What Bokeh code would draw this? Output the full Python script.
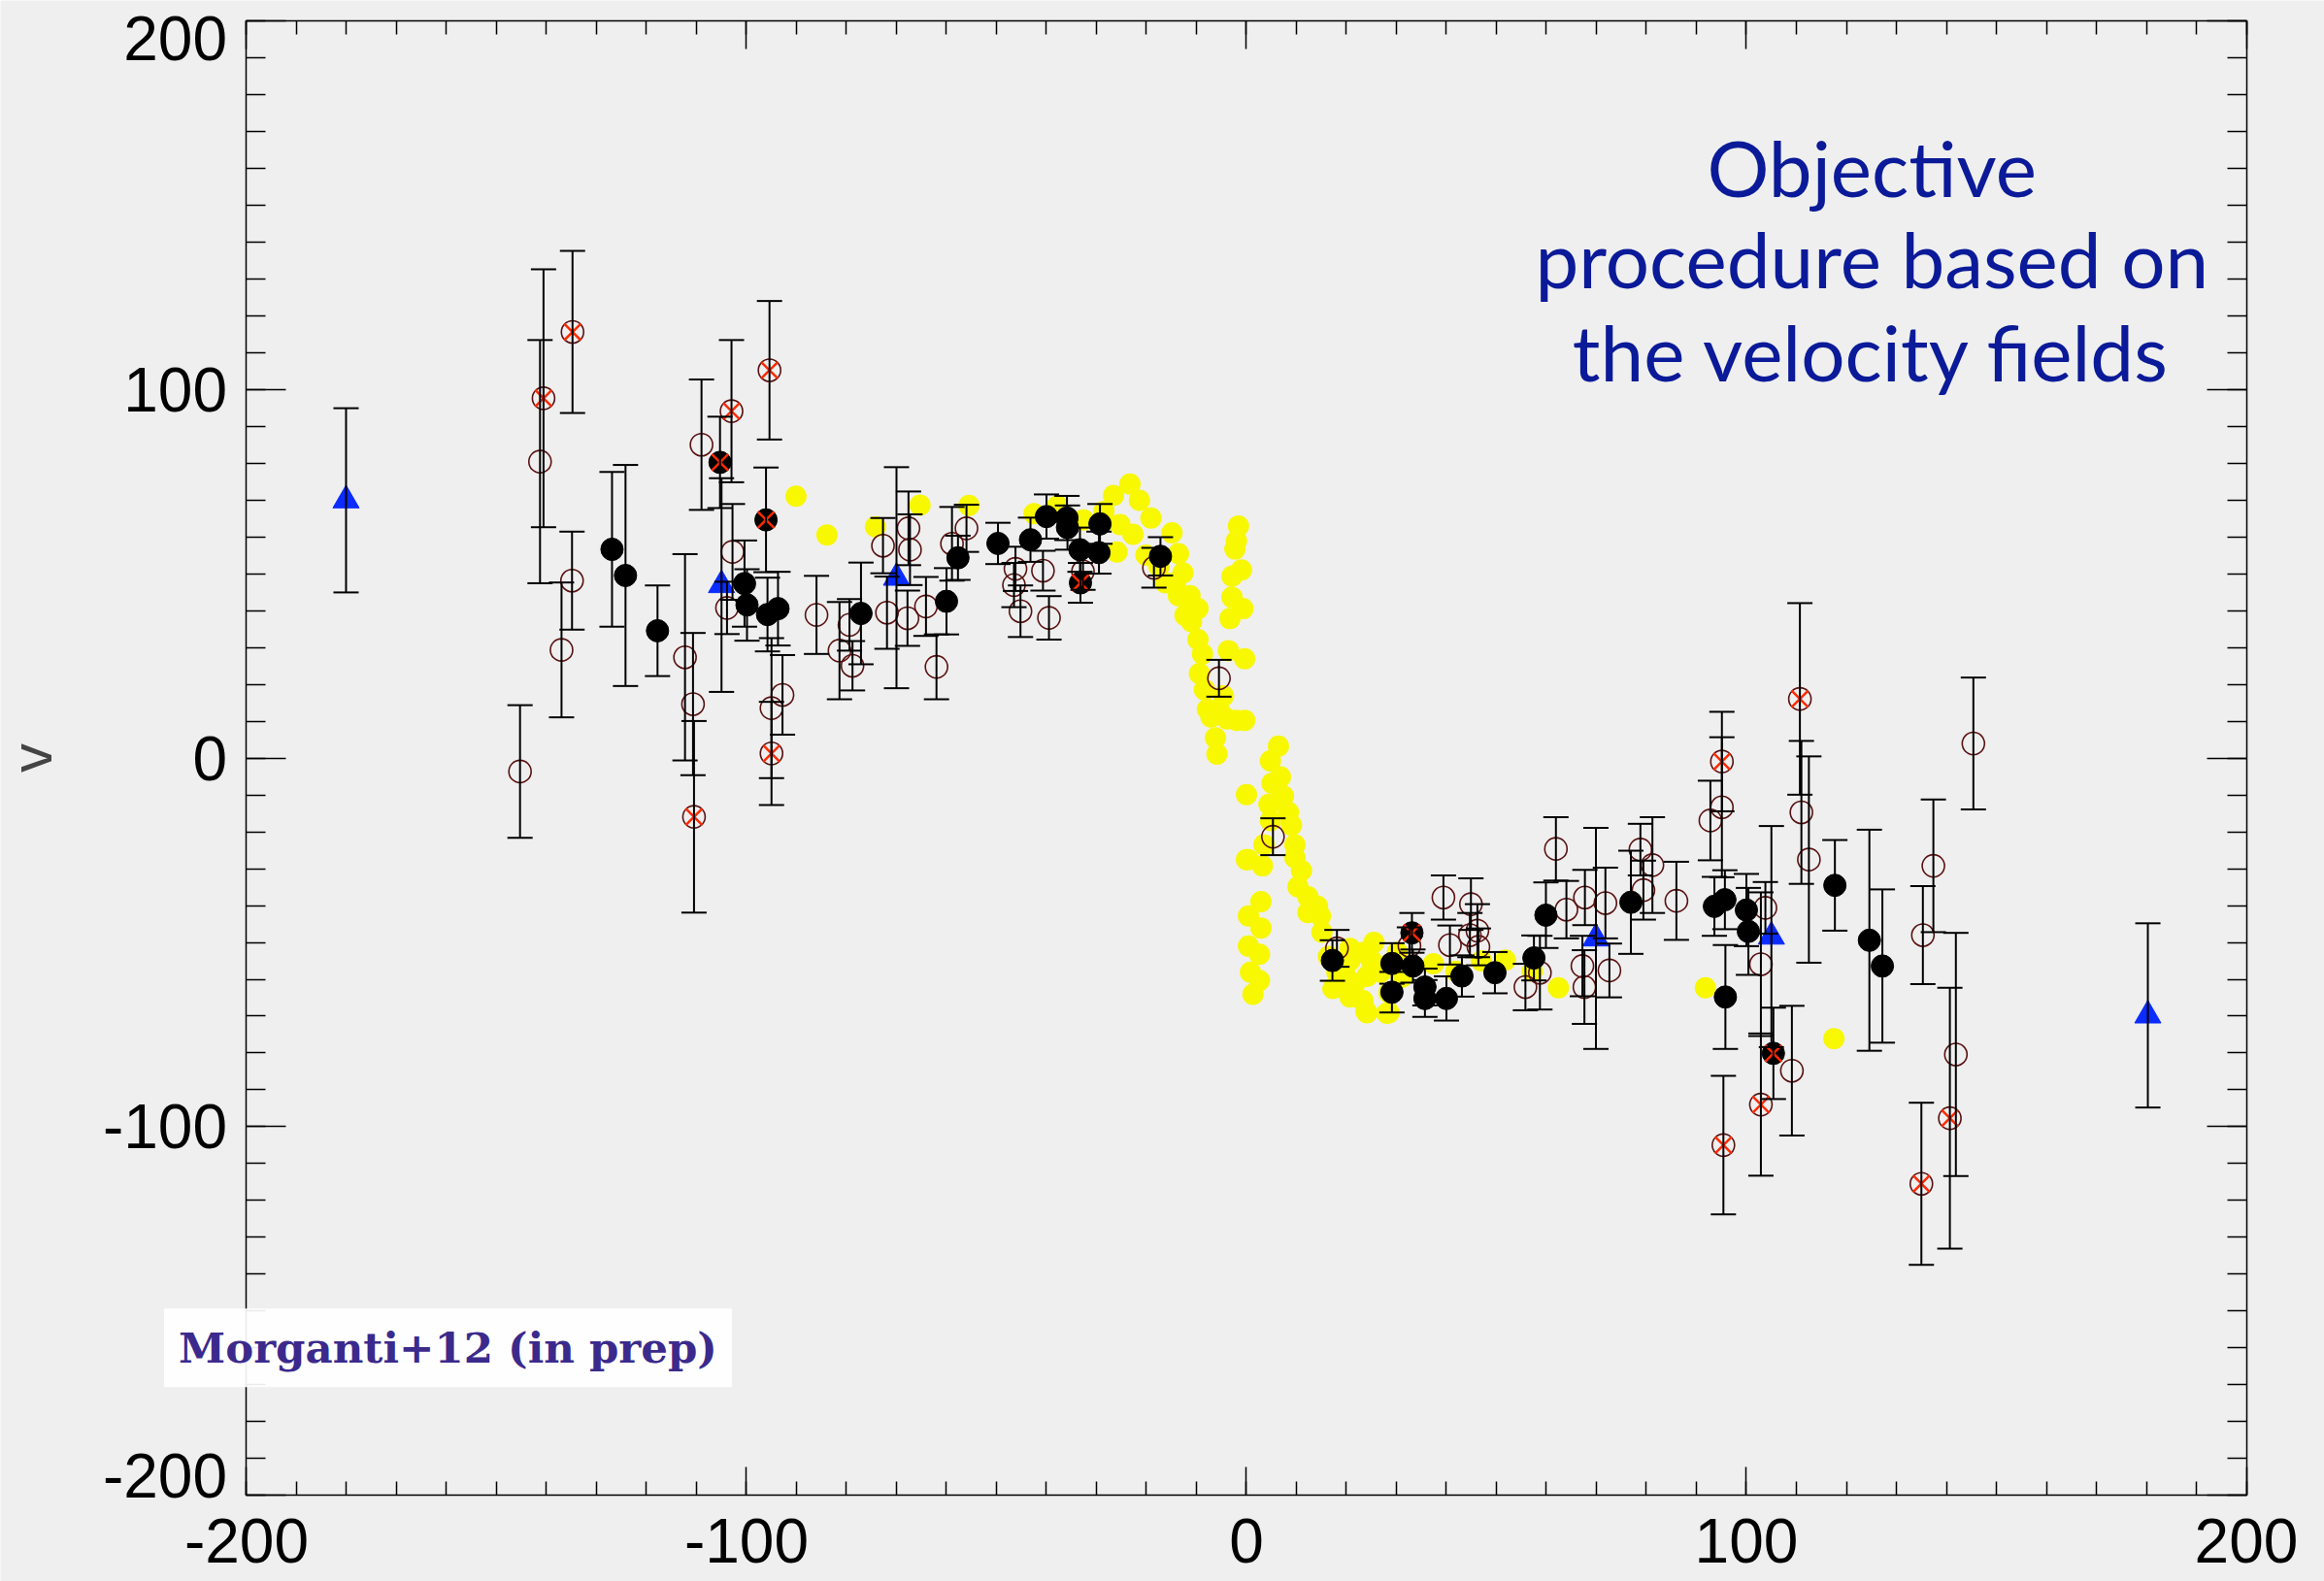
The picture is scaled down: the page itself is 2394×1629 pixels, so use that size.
from bokeh.plotting import figure
from bokeh.models import (ColumnDataSource, Whisker, TeeHead, Range1d, LinearAxis,
                          FixedTicker, Label)
from bokeh.embed import file_html
from bokeh.resources import INLINE

# ---- data: position along the cut (x) and velocity (v) ----
# yellow: velocity-field samples (no error bars)
yellow_x = [-90.1, -83.9, -74.2, -65.3, -55.5, -42.5, -37.8, -32.6,
            -28.5, -26.6, -23.3, -21.4, -19.1, -14.9, -25.3, -22.7, -25.9, -20.1,
            -17.5, -13.6, -12.7, -16.2, -14.2, -13.6, -11.3, -9.7, -12.3, -11.0,
            -9.7, -8.8, -9.4, -8.4, -4.6, -7.8, -7.1, -5.2, -3.9, -2.0, -0.35,
            -6.2, -5.9,
            -1.6, -2.0, -2.3, -1.0, -2.9, -2.9, -0.7, -3.3, -3.6, -0.35,
            6.4, 4.8, 6.8, 5.1, 7.4, 4.5, 8.4, 9.0, 4.8, 3.5, 9.7, 9.7, 3.2,
            11.0, 10.3, 12.3, 14.2, 12.3, 14.8,
            0.0, 0.0, 0.3, 2.9, 0.4, 2.9, 0.4, 2.6, 0.8, 2.6, 1.3,
            15.1, 16.4, 18.1, 17.3, 20.7, 23.3, 25.0, 24.1, 21.6, 23.3, 24.1,
            26.8, 28.5, 28.5, 28.5, 30.2, 31.1, 20.7, 20.0, 20.7, 23.9, 28.1,
            31.0, 25.5, 37.4, 41.9, 47.0, 51.8, 57.2, 62.4, 91.8, 117.5]
yellow_y = [71.1, 60.6, 62.8, 68.7, 68.6, 66.4, 68.5, 64.7,
            67.0, 71.3, 74.4, 70.0, 65.2, 61.2, 63.4, 60.8, 56.0, 55.1,
            52.0, 55.5, 50.3, 47.6, 47.6, 44.1, 44.1, 40.6, 38.8, 37.1,
            32.2, 28.3, 23.0, 18.6, 16.9, 13.3, 11.2, 12.4, 10.7, 10.3, 10.3,
            5.5, 1.1,
            63.0, 59.0, 56.8, 51.1, 49.4, 43.7, 40.6, 37.9, 29.2, 27.0,
            3.3, -0.7, -5.1, -6.8, -10.3, -12.5, -14.7, -18.2, -16.9, -23.5, -23.5,
            -27.0, -29.2, -30.5, -34.9, -37.6, -40.2, -41.9, -42.8,
            -9.9, -27.5, -27.5, -38.9, -42.8, -46.1, -51.0, -53.2, -58.1, -60.3,
            -64.1,
            -47.2, -53.8, -58.1, -62.5, -54.9, -52.7, -54.9, -59.2, -61.4, -65.8,
            -69.1, -58.1, -56.0, -63.6, -69.1, -52.7, -58.1, -51.6, -59.5, -64.8,
            -68.7, -69.2, -59.5, -50.0, -55.8, -57.8, -55.0, -54.8, -57.8, -62.3,
            -62.3, -76.1]

# filled black circles with error bars
black_x = [-126.9, -124.2, -117.8, -100.4, -99.9, -95.8, -93.7, -77.1, -60.0,
           -57.7, -49.7, -43.2, -40.0, -35.9, -35.8, -29.3, -33.3, -29.5, -17.2,
           17.2, 29.1, 29.1, 33.3, 35.7, 35.7, 40.0, 43.1, 49.7, 57.5, 59.9,
           76.9, 93.6, 95.7, 100.0, 100.4, 95.8, 117.7, 124.6, 127.2]
black_y = [56.7, 49.6, 34.6, 47.4, 41.6, 39.0, 40.6, 39.3, 42.6,
           54.4, 58.3, 59.3, 65.6, 65.2, 62.6, 63.6, 56.6, 55.8, 54.8,
           -54.9, -55.7, -63.5, -56.4, -62.1, -65.2, -65.2, -59.1, -58.2, -54.2,
           -42.6, -39.1, -40.2, -38.4, -41.2, -47.0, -64.8, -34.5, -49.4, -56.4]
black_err = [21, 30, 12.3, 11.7, 9.7, 10, 10, 13.8, 9,
             6, 5.6, 6, 6, 6, 6, 5.4, 6, 5.7, 5.2,
             5.5, 5.5, 5.5, 4.5, 5, 5, 6, 5.6, 5.6, 6.1,
             8.9, 14, 8, 8, 9.8, 11.8, 14.1, 12.3, 30, 20.8]

# filled black circles flagged with a red cross
blackx_x = [-105.3, -96.1, -33.2, 33.1, 105.4]
blackx_y = [80.3, 64.7, 47.6, -47.4, -80.1]
blackx_err = [12.4, 14.2, 5.4, 5.4, 12.4]

# open circles with error bars
open_x = [-145.3, -141.3, -134.9, -137.0, -112.3, -110.7, -109.0, -103.9, -102.8,
          -95.0, -92.8, -86.0, -81.4, -79.4, -78.8, -72.7, -71.9, -67.6, -67.3,
          -67.8, -64.1, -62.0, -58.9, -56.0, -46.2, -46.5, -45.2, -40.7, -39.5,
          -32.7, -18.5, -5.5, 5.3, 18.1, 32.6, 39.4, 40.7, 44.9, 46.2, 44.7,
          46.4, 55.8, 58.7, 61.9, 64.0, 67.7, 67.2, 67.6, 71.8, 72.6, 78.8,
          81.2, 79.4, 86.0, 92.8, 95.1, 103.8, 102.9, 109.1, 111.0, 112.5,
          135.3, 137.4, 141.9, 145.4]
open_y = [-3.6, 80.5, 48.2, 29.4, 27.4, 14.7, 85.1, 40.8, 56.0,
          13.6, 17.2, 38.9, 29.2, 36.2, 25.1, 57.7, 39.5, 62.4, 56.6,
          38.0, 41.2, 24.8, 58.2, 62.4, 51.4, 47.0, 39.9, 50.9, 38.1,
          50.7, 51.7, 21.7, -21.3, -51.6, -50.9, -37.8, -50.7, -39.6, -46.8, -48.0,
          -51.2, -62.1, -58.2, -24.6, -41.1, -37.8, -56.4, -62.1, -39.3, -57.6, -24.8,
          -29.0, -35.8, -38.7, -16.9, -13.3, -40.6, -55.9, -84.8, -14.7, -27.5,
          -48.0, -29.2, -80.4, 4.0]
open_err = [18, 33, 13.3, 18.3, 28, 19.3, 17.7, 7.1, 13,
            19, 10.8, 10.6, 13.2, 7, 6.7, 7.5, 9.8, 10, 9.6,
            7.5, 8, 8.8, 10, 6.4, 6, 6, 7, 5.4, 5.9,
            5, 5.4, 5, 5, 5, 5, 6, 5.3, 7, 7.2, 6,
            5, 6.3, 10, 8.6, 7.8, 7.5, 8.2, 10, 9.6, 7.3, 7,
            13, 8, 10.6, 10.8, 19, 7, 19.5, 17.6, 19.4, 28,
            13.3, 18, 33, 17.9]

# open circles flagged with a red cross
openx_x = [-140.6, -134.8, -110.5, -103.0, -95.4, -95.0, 95.1, 95.4, 102.9,
           110.7, 135.0, 140.7]
openx_y = [97.7, 115.7, -15.9, 94.2, 105.3, 1.3, -0.9, -105.0, -94.0,
           16.1, -115.5, -97.7]
openx_err = [35, 22, 26, 19.3, 18.8, 14, 13.5, 18.8, 19.3, 26, 22, 35.4]

# blue triangles with error bars
tri_x = [-180.1, -105.0, -70.0, 69.9, 105.0, 180.3]
tri_y = [70.0, 47.0, 49.0, -48.9, -48.4, -69.8]
tri_err = [25, 29, 30, 30, 30, 25]

tick_values = [-200, -100, 0, 100, 200]
tick_labels = ["-200", "-100", "0", "100", "200"]
# the end labels of the v axis sit just inside the box
v_label_pos = [-194.7, -100, 0, 100, 195.5]

BG = "#efefef"
MAROON = "#5a1212"
RED = "#ff2a00"
BLUE = "#0a2cff"

# the frame fills the canvas; the axes box spans -200..200 on both axes
p = figure(width=2394, height=1629,
           x_range=Range1d(-249.22, 215.63), y_range=Range1d(-223.44, 205.66),
           x_axis_location=None, y_axis_location=None,
           output_backend="svg", toolbar_location=None,
           min_border_left=0, min_border_right=0, min_border_top=0, min_border_bottom=0)
p.background_fill_color = BG
p.border_fill_color = BG
p.outline_line_color = None
p.grid.visible = False

ticker = FixedTicker(ticks=tick_values, minor_ticks=list(range(-200, 201, 10)))


def box_axis(major, minor, edge):
    ax = LinearAxis(ticker=ticker, fixed_location=edge, bounds=(-200, 200))
    ax.axis_line_color = "black"
    ax.axis_line_width = 1.5
    ax.major_tick_line_color = "black"
    ax.minor_tick_line_color = "black"
    ax.major_tick_line_width = 1.5
    ax.minor_tick_line_width = 1.5
    ax.major_tick_in = major
    ax.major_tick_out = 0
    ax.minor_tick_in = minor
    ax.minor_tick_out = 0
    ax.major_label_text_color = None
    return ax


bottom = box_axis(29, 14, -200)
bottom.major_label_overrides = {v: s for v, s in zip(tick_values, tick_labels)}
bottom.major_label_text_color = "black"
bottom.major_label_text_font = "Liberation Sans"
bottom.major_label_text_font_size = "64px"
bottom.major_label_standoff = 24
p.add_layout(bottom, "below")
p.add_layout(box_axis(29, 14, 200), "above")
p.add_layout(box_axis(41, 20, -200), "left")
p.add_layout(box_axis(41, 20, 200), "right")

# labels of the v axis
vlab = LinearAxis(ticker=FixedTicker(ticks=v_label_pos, minor_ticks=[]),
                  fixed_location=-200, bounds=(-200, 200))
vlab.axis_line_color = None
vlab.major_tick_line_color = None
vlab.minor_tick_line_color = None
vlab.major_label_overrides = {v: s for v, s in zip(v_label_pos, tick_labels)}
vlab.major_label_text_font = "Liberation Sans"
vlab.major_label_text_font_size = "64px"
vlab.major_label_text_color = "black"
vlab.major_label_standoff = 14
vlab.axis_label = "v"
vlab.axis_label_text_font = "Liberation Sans"
vlab.axis_label_text_font_style = "normal"
vlab.axis_label_text_font_size = "60px"
vlab.axis_label_standoff = 36
p.add_layout(vlab, "left")

# velocity-field samples
p.scatter(yellow_x, yellow_y, size=22, marker="circle", fill_color="#f8f800",
          line_color=None)


def with_bars(xs, ys, errs):
    src = ColumnDataSource(dict(x=xs, y=ys,
                                upper=[y + e for y, e in zip(ys, errs)],
                                lower=[y - e for y, e in zip(ys, errs)]))
    w = Whisker(source=src, base="x", upper="upper", lower="lower", dimension="height",
                line_color="black", line_width=2, level="glyph",
                upper_head=TeeHead(size=26, line_color="black", line_width=2),
                lower_head=TeeHead(size=26, line_color="black", line_width=2))
    p.add_layout(w)
    return src


s_open = with_bars(open_x, open_y, open_err)
s_openx = with_bars(openx_x, openx_y, openx_err)
s_black = with_bars(black_x, black_y, black_err)
s_blackx = with_bars(blackx_x, blackx_y, blackx_err)
s_tri = with_bars(tri_x, tri_y, tri_err)

p.scatter("x", "y", source=s_open, marker="circle", size=23, fill_color=None,
          line_color=MAROON, line_width=1.6)
p.scatter("x", "y", source=s_openx, marker="circle", size=23, fill_color=None,
          line_color=MAROON, line_width=1.6)
p.scatter("x", "y", source=s_openx, marker="x", size=24, line_color=RED, line_width=2.5)
p.scatter("x", "y", source=s_black, marker="circle", size=23, fill_color="black",
          line_color="black")
p.scatter("x", "y", source=s_blackx, marker="circle", size=23, fill_color="black",
          line_color="black")
p.scatter("x", "y", source=s_blackx, marker="x", size=24, line_color=RED, line_width=2.5)
p.scatter("x", "y", source=s_tri, marker="triangle", size=27, fill_color=BLUE,
          line_color=BLUE)

# annotation text
for txt, yy in [("Objective", 160.6), ("procedure based on", 135.6),
                ("the velocity fields", 110.5)]:
    p.add_layout(Label(x=125.1, y=yy, text=txt, text_align="center",
                       text_baseline="alphabetic", text_font="Lato",
                       text_font_size="80px", text_color="#0b1a98"))

p.add_layout(Label(x=-216.5, y=-160.0, text="Morganti+12 (in prep)",
                   text_align="left", text_baseline="alphabetic",
                   text_font="DejaVu Serif", text_font_style="bold",
                   text_font_size="43.5px", text_color="#3b2a8c",
                   background_fill_color="white", background_fill_alpha=0.92,
                   padding=15))

open("out.html", "w").write(file_html(p, INLINE))
